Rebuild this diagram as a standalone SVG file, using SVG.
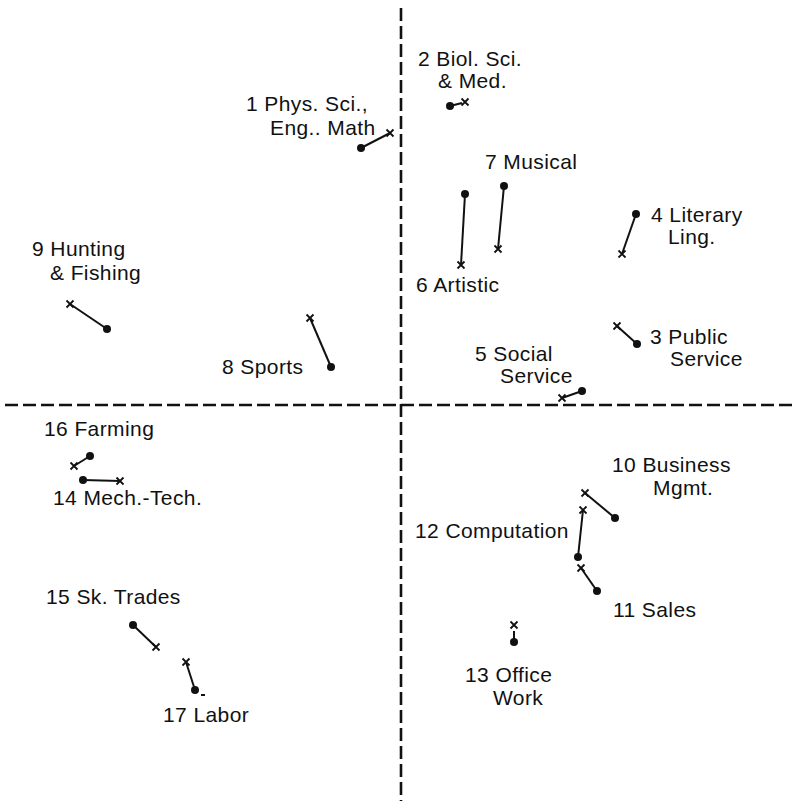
<svg xmlns="http://www.w3.org/2000/svg" width="793" height="801" viewBox="0 0 793 801">
  <style>
    .axis { stroke: #111; stroke-width: 2.6; stroke-dasharray: 13 5; fill: none; }
    .seg { stroke: #111; stroke-width: 2; fill: none; }
    .dot { fill: #111; }
    .cross { stroke: #111; stroke-width: 1.8; fill: none; }
    text { font-family: "Liberation Sans", Arial, sans-serif; font-size: 21px; fill: #111; letter-spacing: 0.4px; }
  </style>
  <defs>
    <g id="x"><path class="cross" d="M-3.5,-3.5 L3.5,3.5 M-3.5,3.5 L3.5,-3.5"/></g>
    <circle id="d" class="dot" r="4"/>
  </defs>
  <rect width="793" height="801" fill="#fff"/>

  <!-- axes -->
  <g id="axes">
    <line class="axis" x1="401" y1="8" x2="401" y2="801"/>
    <line class="axis" x1="5" y1="405" x2="793" y2="405"/>
  </g>

  <!-- connectors: shift from dot to cross for each group -->
  <g id="connectors">
    <line class="seg" x1="361" y1="148" x2="390" y2="133"/>
    <line class="seg" x1="450" y1="106" x2="462" y2="103"/>
    <line class="seg" x1="465" y1="194" x2="461" y2="265"/>
    <line class="seg" x1="504" y1="186" x2="498" y2="249"/>
    <line class="seg" x1="636" y1="214" x2="622" y2="254"/>
    <line class="seg" x1="637" y1="344" x2="617" y2="326"/>
    <line class="seg" x1="582" y1="391" x2="562" y2="398"/>
    <line class="seg" x1="107" y1="329" x2="70" y2="304"/>
    <line class="seg" x1="331" y1="367" x2="310" y2="318"/>
    <line class="seg" x1="90" y1="456" x2="74" y2="466"/>
    <line class="seg" x1="83" y1="480" x2="120" y2="481"/>
    <line class="seg" x1="615" y1="518" x2="585" y2="493"/>
    <line class="seg" x1="578" y1="557" x2="583" y2="510"/>
    <line class="seg" x1="597" y1="591" x2="581" y2="568"/>
    <line class="seg" x1="133" y1="625" x2="156" y2="647"/>
    <line class="seg" x1="195" y1="690" x2="186" y2="662"/>
    <line class="seg" x1="514" y1="641" x2="514" y2="631"/>
    <line class="seg" x1="201" y1="695" x2="205" y2="695"/>
  </g>

  <g id="n1"><use href="#d" x="361" y="148"/><use href="#x" x="390" y="133"/>
    <text x="246" y="111">1 Phys. Sci.,</text><text x="270" y="135">Eng.. Math</text></g>
  <g id="n2"><use href="#d" x="450" y="106"/><use href="#x" x="465" y="102"/>
    <text x="418" y="66">2 Biol. Sci.</text><text x="438" y="88">&amp; Med.</text></g>
  <g id="n3"><use href="#d" x="637" y="344"/><use href="#x" x="617" y="326"/>
    <text x="650" y="344">3 Public</text><text x="670" y="366">Service</text></g>
  <g id="n4"><use href="#d" x="636" y="214"/><use href="#x" x="622" y="254"/>
    <text x="651" y="222">4 Literary</text><text x="668" y="244">Ling.</text></g>
  <g id="n5"><use href="#d" x="582" y="391"/><use href="#x" x="562" y="398"/>
    <text x="475" y="361">5 Social</text><text x="500" y="383">Service</text></g>
  <g id="n6"><use href="#d" x="465" y="194"/><use href="#x" x="461" y="265"/>
    <text x="416" y="292">6 Artistic</text></g>
  <g id="n7"><use href="#d" x="504" y="186"/><use href="#x" x="498" y="249"/>
    <text x="485" y="169">7 Musical</text></g>
  <g id="n8"><use href="#d" x="331" y="367"/><use href="#x" x="310" y="318"/>
    <text x="222" y="374">8 Sports</text></g>
  <g id="n9"><use href="#d" x="107" y="329"/><use href="#x" x="70" y="304"/>
    <text x="32" y="256">9 Hunting</text><text x="50" y="280">&amp; Fishing</text></g>
  <g id="n10"><use href="#d" x="615" y="518"/><use href="#x" x="585" y="493"/>
    <text x="612" y="472">10 Business</text><text x="653" y="495">Mgmt.</text></g>
  <g id="n11"><use href="#d" x="597" y="591"/><use href="#x" x="581" y="568"/>
    <text x="613" y="617">11 Sales</text></g>
  <g id="n12"><use href="#d" x="578" y="557"/><use href="#x" x="583" y="510"/>
    <text x="415" y="538">12 Computation</text></g>
  <g id="n13"><use href="#d" x="514" y="642"/><use href="#x" x="514" y="625"/>
    <text x="465" y="682">13 Office</text><text x="493" y="705">Work</text></g>
  <g id="n14"><use href="#d" x="83" y="480"/><use href="#x" x="120" y="481"/>
    <text x="53" y="505">14 Mech.-Tech.</text></g>
  <g id="n15"><use href="#d" x="133" y="625"/><use href="#x" x="156" y="647"/>
    <text x="46" y="604">15 Sk. Trades</text></g>
  <g id="n16"><use href="#d" x="90" y="456"/><use href="#x" x="74" y="466"/>
    <text x="44" y="436">16 Farming</text></g>
  <g id="n17"><use href="#d" x="195" y="690"/><use href="#x" x="186" y="662"/>
    <text x="163" y="722">17 Labor</text></g>
</svg>
